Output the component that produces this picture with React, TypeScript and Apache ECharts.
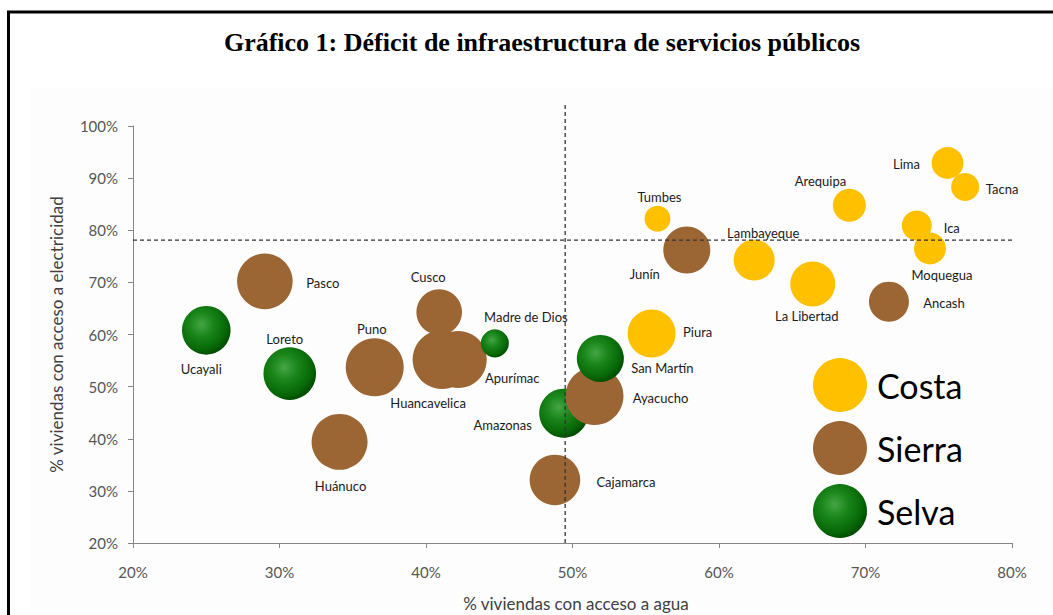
import React, { useEffect, useRef } from "react";
import * as echarts from "echarts";

// ---- Datos ----
const regiones = [
  "Ucayali", "Loreto", "Pasco", "Puno", "Huánuco", "Cusco", "Huancavelica", "Apurímac",
  "Madre de Dios", "Amazonas", "Ayacucho", "San Martín", "Cajamarca", "Piura", "Tumbes",
  "Junín", "Lambayeque", "La Libertad", "Arequipa", "Lima", "Tacna", "Ica", "Moquegua", "Ancash",
];
const zona = [
  "Selva", "Selva", "Sierra", "Sierra", "Sierra", "Sierra", "Sierra", "Sierra",
  "Selva", "Selva", "Sierra", "Selva", "Sierra", "Costa", "Costa",
  "Sierra", "Costa", "Costa", "Costa", "Costa", "Costa", "Costa", "Costa", "Sierra",
];
// % viviendas con acceso a agua
const agua = [
  25.0, 30.7, 29.0, 36.5, 34.1, 40.9, 41.1, 42.2,
  44.7, 49.4, 51.5, 51.9, 48.8, 55.4, 55.8,
  57.8, 62.4, 66.4, 68.9, 75.6, 76.8, 73.5, 74.4, 71.6,
];
// % viviendas con acceso a electricidad
const electricidad = [
  60.8, 52.5, 70.2, 53.7, 39.4, 64.3, 55.2, 55.2,
  58.3, 44.9, 48.2, 55.4, 32.1, 60.2, 82.2,
  76.2, 74.3, 69.7, 84.8, 92.9, 88.3, 80.9, 76.5, 66.3,
];
// tamaño de burbuja (tasa de pobreza estimada, %)
const pobreza = [
  59.5, 69.7, 77.9, 84.8, 79.0, 52.4, 87.7, 81.9,
  19.8, 60.5, 84.8, 55.7, 64.5, 58.0, 17.0,
  55.7, 42.4, 51.0, 27.4, 25.8, 19.8, 22.7, 25.8, 40.3,
];
const zonas = ["Costa", "Sierra", "Selva"];
const promedioAgua = 49.5;
const promedioElectricidad = 78.1;
const xTicks = [20, 80, 10]; // min, max, interval
const yTicks = [20, 100, 10];

// ---- Estilo ----
const labelOffset: Record<string, [number, number]> = {
  "Ucayali": [-5, 39], "Loreto": [-5, -35], "Pasco": [58, 2], "Puno": [-3, -38],
  "Huánuco": [1, 44], "Cusco": [-11, -35], "Huancavelica": [-14, 43], "Apurímac": [54, 18],
  "Madre de Dios": [31, -26], "Amazonas": [-61, 12], "Ayacucho": [66, 2], "San Martín": [62, 10],
  "Cajamarca": [71, 2], "Piura": [46, -1], "Tumbes": [2, -22], "Junín": [-42, 24],
  "Lambayeque": [9, -27], "La Libertad": [-6, 32], "Arequipa": [-29, -24], "Lima": [-41, 1],
  "Tacna": [37, 2], "Ica": [35, 2], "Moquegua": [12, 27], "Ancash": [55, 1],
};
const drawnBelow = ["Amazonas"];
const green = {
  type: "radial", x: 0.4, y: 0.38, r: 0.62,
  colorStops: [
    { offset: 0, color: "#45a545" },
    { offset: 0.4, color: "#1a861a" },
    { offset: 0.85, color: "#066606" },
    { offset: 1, color: "#004f00" },
  ],
};
const colors: Record<string, any> = { Costa: "#FFC000", Sierra: "#9B6634", Selva: green };
const FONT = "Lato, 'Open Sans', sans-serif";

function buildPoints(z: string, below: boolean) {
  const out: any[] = [];
  regiones.forEach((r, i) => {
    if (zona[i] !== z) return;
    if (drawnBelow.includes(r) !== below) return;
    out.push({
      name: r,
      value: [agua[i], electricidad[i], pobreza[i]],
      label: { offset: labelOffset[r] || [0, 0] },
    });
  });
  return out;
}

function scatterSeries(z: string, below: boolean) {
  return {
    type: "scatter",
    name: z,
    data: buildPoints(z, below),
    symbolSize: (v: number[]) => 6.3 * Math.sqrt(v[2]),
    itemStyle: { color: colors[z], opacity: 1 },
    label: {
      show: true,
      position: "inside",
      formatter: "{b}",
      fontFamily: FONT,
      fontSize: 13,
      color: "#1a1a1a",
      align: "center",
      verticalAlign: "middle",
    },
    emphasis: { disabled: true },
    clip: false,
  };
}

export default function App() {
  const ref = useRef<HTMLDivElement>(null);
  useEffect(() => {
    if (!ref.current) return;
    const chart = echarts.init(ref.current, null, { renderer: "svg" });
    const series: any[] = [];
    zonas.forEach((z) => {
      if (regiones.some((r, i) => zona[i] === z && drawnBelow.includes(r))) series.push(scatterSeries(z, true));
    });
    zonas.forEach((z) => series.push(scatterSeries(z, false)));
    const dashed = { color: "#333", width: 1.3, type: [4, 3] };
    series.push({
      type: "line", name: "promAgua", data: [[promedioAgua, yTicks[0]], [promedioAgua, 104.2]],
      symbol: "none", lineStyle: dashed, clip: false, silent: true, z: 5,
    });
    series.push({
      type: "line", name: "promElec", data: [[xTicks[0], promedioElectricidad], [80.4, promedioElectricidad]],
      symbol: "none", lineStyle: dashed, clip: false, silent: true, z: 5,
    });

    chart.setOption({
      animation: false,
      backgroundColor: "#ffffff",
      title: {
        text: "Gráfico 1: Déficit de infraestructura de servicios públicos",
        left: 537, top: 24, textAlign: "center",
        textStyle: { fontFamily: "'Liberation Serif', 'Times New Roman', serif", fontWeight: "bold", fontSize: 26, color: "#000" },
      },
      graphic: [
        { type: "rect", z: -10, shape: { x: 30, y: 88, width: 1030, height: 519 }, style: { fill: "#fdfdfd" }, silent: true },
        { type: "rect", z: 100, shape: { x: 8.5, y: 12, width: 1100, height: 700 }, style: { fill: "none", stroke: "#000", lineWidth: 3 }, silent: true },
      ],
      legend: {
        data: zonas,
        orient: "vertical",
        left: 808, top: 353,
        itemWidth: 54, itemHeight: 54, itemGap: 9,
        icon: "circle",
        selectedMode: false,
        textStyle: { fontFamily: FONT, fontSize: 34, color: "#000", padding: [0, 0, 0, 5] },
      },
      grid: { left: 133, top: 126, right: 41, bottom: 72, outerBoundsMode: "none", containLabel: false },
      xAxis: {
        type: "value", min: xTicks[0], max: xTicks[1], interval: xTicks[2],
        name: "% viviendas con acceso a agua", nameLocation: "middle", nameGap: 52,
        nameTextStyle: { fontFamily: FONT, fontSize: 17, color: "#404040", padding: [0, 0, 0, 7] },
        axisLine: { lineStyle: { color: "#868686" } },
        axisTick: { show: true, length: 5, lineStyle: { color: "#868686" } },
        axisLabel: { formatter: "{value}%", fontFamily: FONT, fontSize: 15, color: "#555", margin: 21 },
        splitLine: { show: false },
      },
      yAxis: {
        type: "value", min: yTicks[0], max: yTicks[1], interval: yTicks[2],
        name: "% viviendas con acceso a electricidad", nameLocation: "middle", nameGap: 68,
        nameTextStyle: { fontFamily: FONT, fontSize: 17, color: "#404040" },
        axisLine: { show: true, lineStyle: { color: "#868686" } },
        axisTick: { show: true, length: 5, lineStyle: { color: "#868686" } },
        axisLabel: { formatter: "{value}%", fontFamily: FONT, fontSize: 15, color: "#555", margin: 15 },
        splitLine: { show: false },
      },
      series,
    });
    return () => chart.dispose();
  }, []);
  return <div ref={ref} style={{ position: "fixed", left: 0, top: 0, width: 1053, height: 615 }} />;
}
